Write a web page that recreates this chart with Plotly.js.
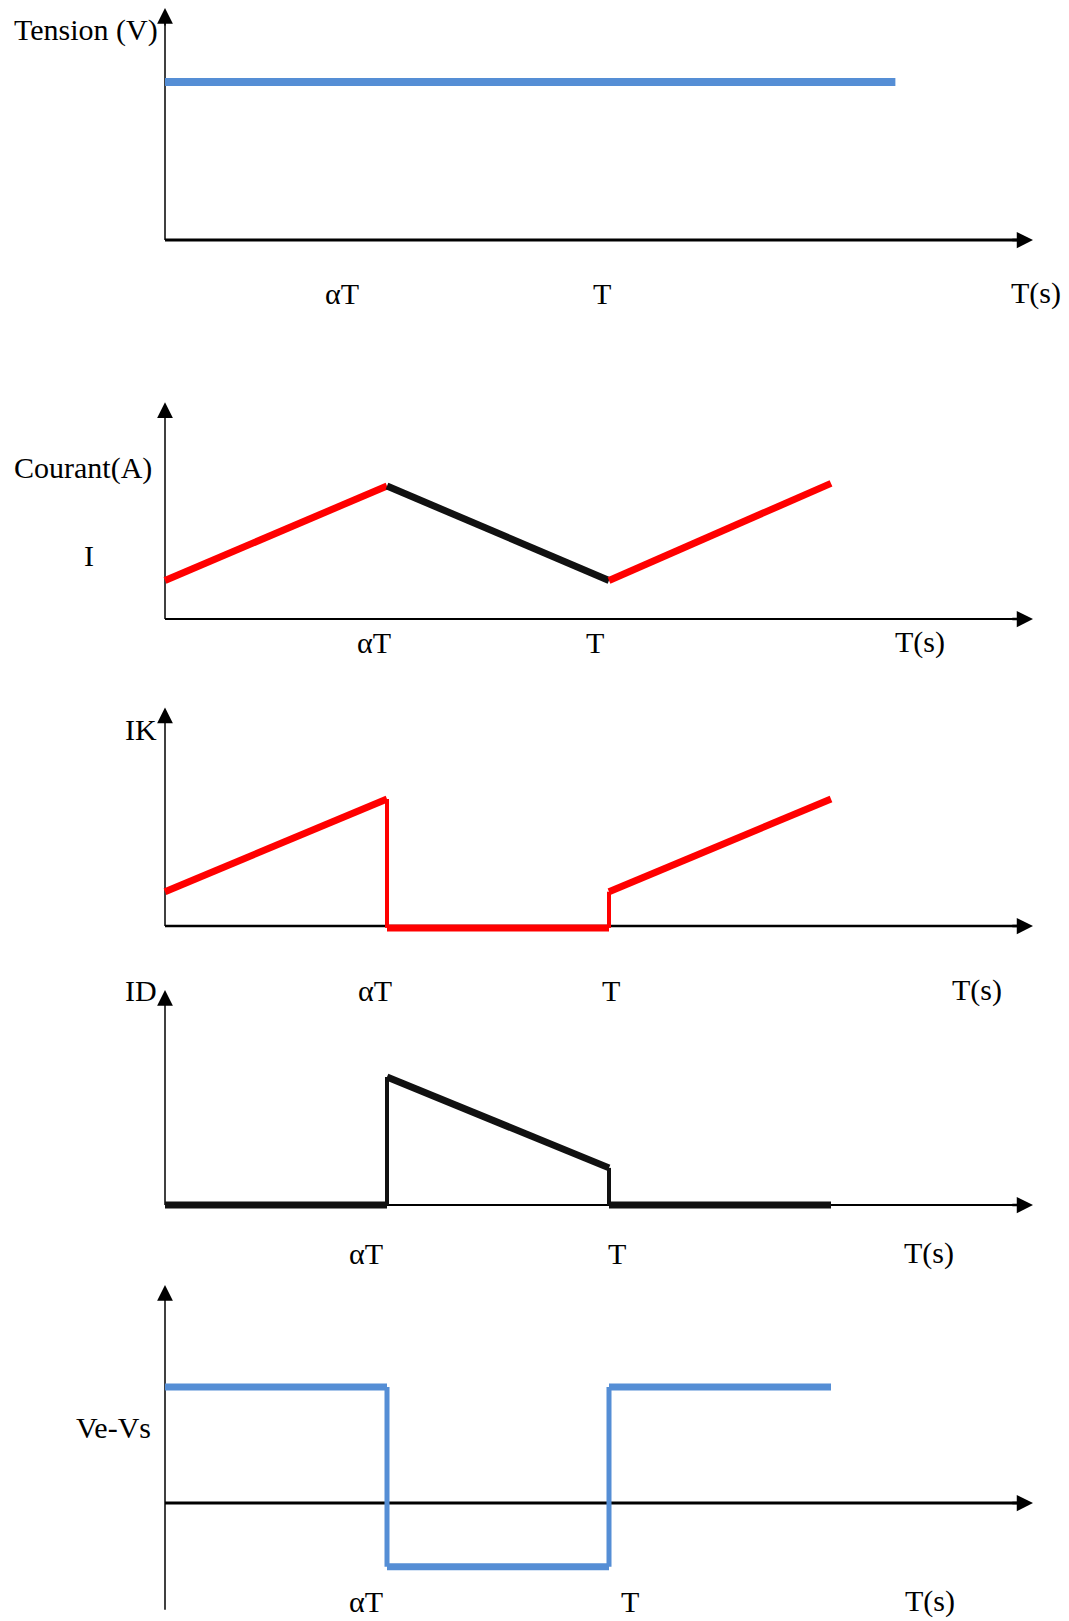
<!DOCTYPE html>
<html>
<head>
<meta charset="utf-8">
<script src="https://cdn.plot.ly/plotly-3.0.1.min.js"></script>
<style>html,body{margin:0;padding:0;background:#fff;}#chart{width:1069px;height:1621px;}</style>
</head>
<body>
<div id="chart"></div>
<script>
// ---------- data (time in units of alpha*T, values normalised per panel) ----------
const tickLabels = ["αT", "T", "T(s)"];
const axisTitles = ["Tension (V)", "Courant(A)", "IK", "ID", "Ve-Vs"];
const levelLabel = "I";

const tensionT = [0, 3.29];
const tensionV = [1, 1];

const courantT = [0, 1, 2, 3];
const courantI = [0.29, 1.0, 0.29, 1.02];

const ikT = [0, 1, 1, 2, 2, 3];
const ikI = [0.27, 1.0, -0.015, -0.015, 0.27, 1.0];

const idT = [0, 1, 1, 2, 2, 3];
const idI = [0, 0, 1.0, 0.29, 0, 0];

const veT = [0, 1, 1, 2, 2, 3];
const veV = [1, 1, -0.55, -0.55, 1, 1];

// ---------- styles / layout ----------
const W = 1069, H = 1621;
const BLUE = "#558ED5", RED = "#FF0000", BLACK = "#111111";
const FONT = "Liberation Serif, Times New Roman, serif";
const FS = 30;
const X0PX = 165, XUNIT = 222;            // t=0 at 165px, 222px per alpha*T
const xRange = [-X0PX / XUNIT, (W - X0PX) / XUNIT];

const panels = [
  {t: tensionT, v: tensionV, colors: [BLUE], band: [0, 330], zero: 240, unit: 158,
   yTop: 1.468, yBot: 0, xEnd: 3.91, thick: 8, thin: 8, axW: 3,
   ticks: [[342, 293], [602, 293], [1036, 293]],
   labels: [[axisTitles[0], 12, 30, "left"]]},
  {t: courantT, v: courantI, colors: [RED, BLACK, RED], band: [330, 660], zero: 619, unit: 133,
   yTop: 1.63, yBot: 0, xEnd: 3.91, thick: 7, thin: 7, axW: 2,
   ticks: [[374, 642], [595, 642], [920, 642]],
   labels: [[axisTitles[1], 12, 468, "left"], [levelLabel, 89, 555, "center"]]},
  {t: ikT, v: ikI, colors: [RED, RED, RED, RED, RED], band: [660, 975], zero: 926, unit: 127,
   yTop: 1.72, yBot: 0, xEnd: 3.91, thick: 7, thin: 4, axW: 2.5,
   ticks: [[375, 990], [611, 990], [977, 990]],
   labels: [[axisTitles[2], 159, 729, "right"], [axisTitles[3], 159, 990, "right"]]},
  {t: idT, v: idI, colors: [BLACK, BLACK, BLACK, BLACK, BLACK], band: [975, 1265], zero: 1205, unit: 128,
   yTop: 1.68, yBot: 0, xEnd: 3.91, thick: 7, thin: 4, axW: 2,
   ticks: [[366, 1253], [617, 1253], [929, 1253]],
   labels: []},
  {t: veT, v: veV, colors: [BLUE, BLUE, BLUE, BLUE, BLUE], band: [1265, 1621], zero: 1503, unit: 116,
   yTop: 1.88, yBot: -0.92, xEnd: 3.91, thick: 7, thin: 5, axW: 3,
   ticks: [[366, 1601], [630, 1601], [930, 1601]],
   labels: [[axisTitles[4], 153, 1427, "right"]]}
];

const traces = [];
const shapes = [];
const annotations = [];
const layout = {
  width: W, height: H,
  margin: {l: 0, r: 0, t: 0, b: 0, pad: 0},
  paper_bgcolor: "#ffffff", plot_bgcolor: "rgba(0,0,0,0)",
  showlegend: false, hovermode: false,
  font: {family: FONT, size: FS, color: "#000"}
};

panels.forEach((p, i) => {
  const n = i + 1;
  const xa = "x" + (n === 1 ? "" : n), ya = "y" + (n === 1 ? "" : n);
  const xKey = "xaxis" + (n === 1 ? "" : n), yKey = "yaxis" + (n === 1 ? "" : n);
  const [top, bot] = p.band;
  layout[xKey] = {domain: [0, 1], range: xRange, visible: false, fixedrange: true, anchor: ya};
  layout[yKey] = {domain: [1 - bot / H, 1 - top / H],
                  range: [(p.zero - bot) / p.unit, (p.zero - top) / p.unit],
                  visible: false, fixedrange: true, anchor: xa};

  // axis lines (below data)
  shapes.push({type: "line", layer: "below", xref: xa, yref: ya,
               x0: 0, x1: p.xEnd - 0.04, y0: 0, y1: 0, line: {color: "#000", width: p.axW}});
  shapes.push({type: "line", layer: "below", xref: xa, yref: ya,
               x0: 0, x1: 0, y0: p.yBot, y1: p.yTop - 0.05, line: {color: "#000", width: 1.5}});
  // arrow heads
  annotations.push({xref: xa, yref: ya, axref: xa, ayref: ya, x: p.xEnd, y: 0,
                    ax: p.xEnd - 0.1, ay: 0, text: "", showarrow: true, arrowhead: 2,
                    arrowsize: 1.3, arrowwidth: 2.5, arrowcolor: "#000", standoff: 0});
  annotations.push({xref: xa, yref: ya, axref: xa, ayref: ya, x: 0, y: p.yTop,
                    ax: 0, ay: p.yTop - 0.12, text: "", showarrow: true, arrowhead: 2,
                    arrowsize: 2.1, arrowwidth: 1.5, arrowcolor: "#000", standoff: 0});

  // data segments
  for (let k = 0; k < p.t.length - 1; k++) {
    const vertical = p.t[k] === p.t[k + 1];
    traces.push({
      type: "scatter", mode: "lines", xaxis: xa, yaxis: ya,
      x: [p.t[k], p.t[k + 1]], y: [p.v[k], p.v[k + 1]],
      line: {color: p.colors[k % p.colors.length], width: vertical ? p.thin : p.thick},
      cliponaxis: false, hoverinfo: "skip"
    });
  }

  // tick labels
  p.ticks.forEach((pos, j) => {
    annotations.push({xref: "paper", yref: "paper", x: pos[0] / W, y: 1 - pos[1] / H,
                      xanchor: "center", yanchor: "middle", text: tickLabels[j],
                      showarrow: false, font: {family: FONT, size: FS, color: "#000"}});
  });
  // axis titles
  p.labels.forEach(l => {
    annotations.push({xref: "paper", yref: "paper", x: l[1] / W, y: 1 - l[2] / H,
                      xanchor: l[3], yanchor: "middle", text: l[0],
                      showarrow: false, font: {family: FONT, size: FS, color: "#000"}});
  });
});

layout.shapes = shapes;
layout.annotations = annotations;

Plotly.newPlot("chart", traces, layout, {staticPlot: true, displayModeBar: false});
</script>
</body>
</html>
